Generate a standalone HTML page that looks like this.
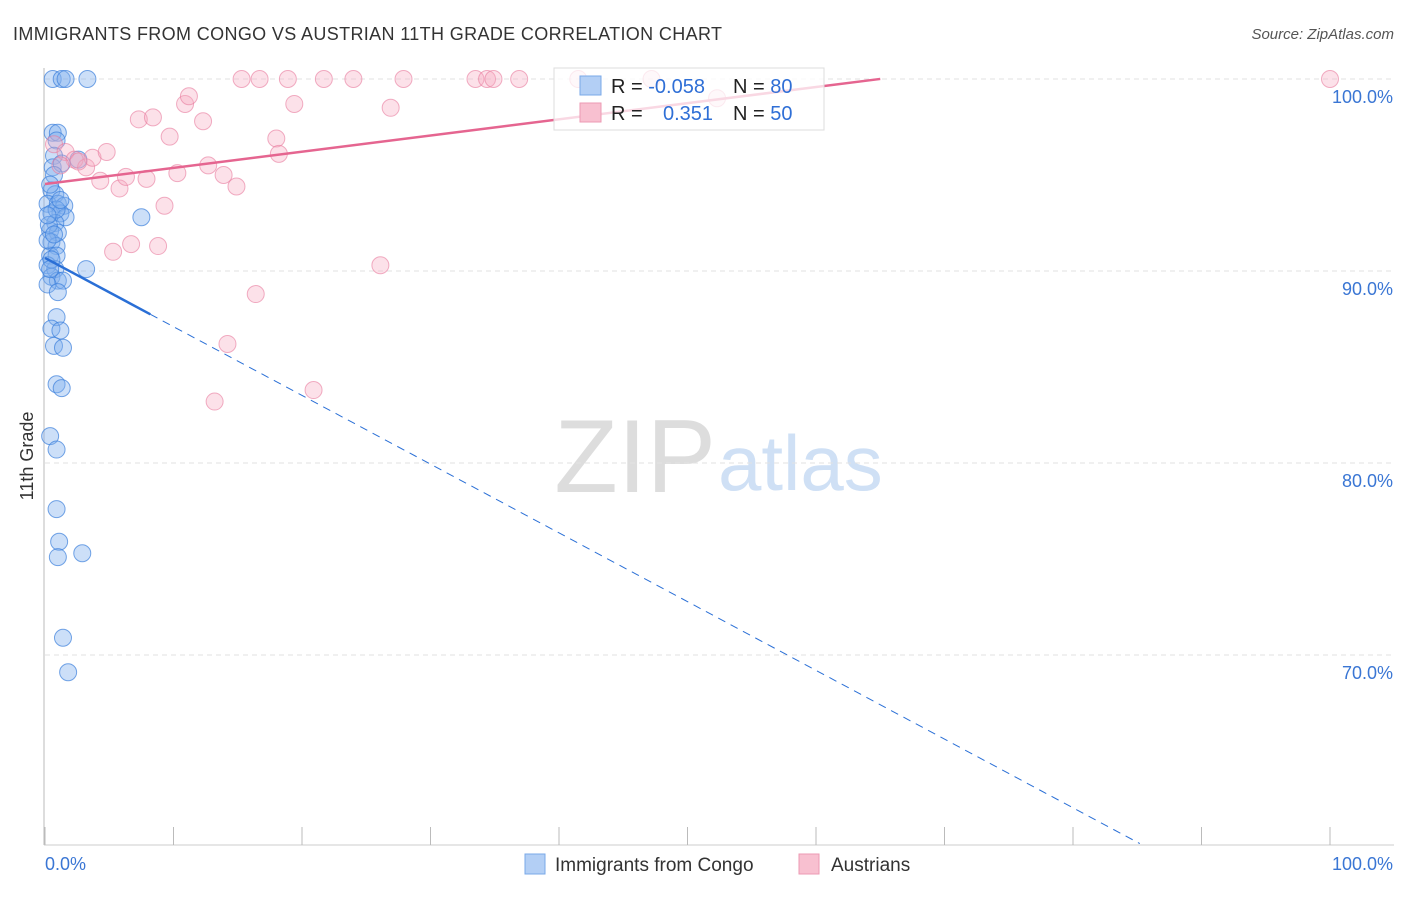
<!DOCTYPE html>
<html><head><meta charset="utf-8"><style>
body{margin:0;background:#fff;font-family:"Liberation Sans",sans-serif;}
svg text{font-family:"Liberation Sans",sans-serif;}
</style></head><body>
<svg id="chart" width="1406" height="892" xmlns="http://www.w3.org/2000/svg">
<text x="13" y="40" font-size="18" fill="#333" textLength="709">IMMIGRANTS FROM CONGO VS AUSTRIAN 11TH GRADE CORRELATION CHART</text>
<text x="1394" y="39" font-size="15" fill="#555" font-style="italic" text-anchor="end">Source: ZipAtlas.com</text>
<text x="0" y="0" transform="translate(33,456) rotate(-90)" font-size="18" fill="#333" text-anchor="middle">11th Grade</text>
<text x="716" y="492" font-size="104" fill="#ddd" text-anchor="end" font-family="Liberation Serif">ZIP</text>
<text x="718" y="490" font-size="78" fill="#cfe0f5">atlas</text>
<g id="grid"></g><g id="pts"></g><g id="trend"></g>
<g>
<rect x="554" y="68" width="270" height="62" fill="#fff" fill-opacity="0.75" stroke="#ddd"/>
<rect x="580" y="76" width="21" height="19" fill="#b3cff5" stroke="#7aa8e8"/>
<rect x="580" y="103" width="21" height="19" fill="#f8c0d0" stroke="#ec9ab3"/>
<text x="611" y="93" font-size="20" fill="#222">R = <tspan fill="#2f6fd6">-0.058</tspan></text>
<text x="733" y="93" font-size="20" fill="#222">N = <tspan fill="#2f6fd6">80</tspan></text>
<text x="611" y="120" font-size="20" fill="#222">R = </text>
<text x="663" y="120" font-size="20" fill="#2f6fd6">0.351</text>
<text x="733" y="120" font-size="20" fill="#222">N = <tspan fill="#2f6fd6">50</tspan></text>
</g>
<g>
<rect x="525" y="854" width="20" height="20" fill="#b3cff5" stroke="#7aa8e8"/>
<text x="555" y="871" font-size="19" fill="#333">Immigrants from Congo</text>
<rect x="799" y="854" width="20" height="20" fill="#f8c0d0" stroke="#ec9ab3"/>
<text x="831" y="871" font-size="19" fill="#333">Austrians</text>
</g>
<text x="45" y="870" font-size="18" fill="#3a76d4">0.0%</text>
<text x="1393" y="870" font-size="18" fill="#3a76d4" text-anchor="end">100.0%</text>
</svg>
<script>
const yTicks=[100,90,80,70];
const xTicks=[0,10,20,30,40,50,60,70,80,90,100];
const congoX=[0.6,1.3,1.6,3.3,0.6,1,0.9,0.7,0.6,1.3,0.7,0.5,0.8,0.2,1,1.5,0.5,1.2,1.6,0.8,0.4,1,0.5,0.9,0.4,0.9,0.2,0.8,3.2,0.5,1,1.4,0.2,1,0.9,0.5,1.2,0.7,1.4,0.9,1.3,0.4,0.9,0.9,1.1,1,2.9,1.4,1.8,7.5,2.6,0.2,0.5,0.4,0.3,0.9,1.2,0.4,0.2,0.7];
const congoY=[100,100,100,100,97.2,97.2,96.8,96,95.4,95.6,95,94.2,94,93.5,93.5,93.4,93,93,92.8,92.5,92.1,92,91.5,91.3,90.8,90.8,90.3,90.1,90.1,89.7,89.5,89.5,89.3,88.9,87.6,87,86.9,86.1,86,84.1,83.9,81.4,80.7,77.6,75.9,75.1,75.3,70.9,69.1,92.8,95.8,91.6,90.6,90.1,92.4,93.2,93.7,94.5,92.9,91.9];
const austX=[0.7,1.6,2.3,3.2,3.7,4.8,2.6,4.3,5.8,6.3,7.9,7.3,8.4,9.7,10.3,10.9,11.2,12.3,12.7,13.9,14.9,9.3,6.7,5.3,8.8,16.4,14.2,13.2,20.9,26.1,18,18.2,19.4,26.9,15.3,16.7,18.9,21.7,24,27.9,33.5,34.4,34.9,36.9,41.5,47.2,52.3,100,1.2];
const austY=[96.6,96.2,95.8,95.4,95.9,96.2,95.7,94.7,94.3,94.9,94.8,97.9,98,97,95.1,98.7,99.1,97.8,95.5,95,94.4,93.4,91.4,91,91.3,88.8,86.2,83.2,83.8,90.3,96.9,96.1,98.7,98.5,100,100,100,100,100,100,100,100,100,100,100,100,99,100,95.5];
const X0=45,X1=1330;
function xs(v){return X0+(X1-X0)*v/100;}
function ys(v){return 79+(100-v)*19.2;}
const NS='http://www.w3.org/2000/svg';
function mk(t,a,p){const e=document.createElementNS(NS,t);for(const k in a)e.setAttribute(k,a[k]);document.getElementById(p).appendChild(e);return e;}
yTicks.forEach(t=>{
 const l=mk('line',{x1:45,x2:1394,y1:ys(t),y2:ys(t),stroke:'#e2e2e2','stroke-dasharray':'5,4'},'grid');
 
 
 const tx=mk('text',{x:1393,y:ys(t)+24,'font-size':18,fill:'#3a76d4','text-anchor':'end'},'grid');
 tx.textContent=t.toFixed(1)+'%';
 
 
});
const ax=mk('line',{x1:44,x2:44,y1:68,y2:845,stroke:'#bbb'},'grid');


const bx=mk('line',{x1:44,x2:1394,y1:845,y2:845,stroke:'#ccc'},'grid');


xTicks.forEach(t=>{
 const l=mk('line',{x1:xs(t),x2:xs(t),y1:827,y2:845,stroke:'#bbb'},'grid');
 
 
});
congoX.forEach((v,i)=>{
 const c=mk('circle',{cx:xs(v),cy:ys(congoY[i]),r:8.5,fill:'#7fb0ee','fill-opacity':0.4,stroke:'#3b7fdb','stroke-opacity':0.7},'pts');
 
 
});
austX.forEach((v,i)=>{
 const c=mk('circle',{cx:xs(v),cy:ys(austY[i]),r:8.5,fill:'#f5a8c0','fill-opacity':0.35,stroke:'#e8799c','stroke-opacity':0.6},'pts');
 
 
});
const congoTrend=[90.68,-0.358];
const austTrend=[94.53,0.0842];
let t1=mk('line',{x1:xs(0),y1:ys(congoTrend[0]),x2:xs(8.2),y2:ys(congoTrend[0]+congoTrend[1]*8.2),stroke:'#2a6fd6','stroke-width':2.5},'trend');


let t2=mk('line',{x1:xs(8.2),y1:ys(congoTrend[0]+congoTrend[1]*8.2),x2:xs(85.2),y2:ys(congoTrend[0]+congoTrend[1]*85.2),stroke:'#2a6fd6','stroke-width':1,'stroke-dasharray':'8,6'},'trend');


let t3=mk('line',{x1:xs(0),y1:ys(austTrend[0]),x2:xs(65),y2:ys(austTrend[0]+austTrend[1]*65),stroke:'#e56590','stroke-width':2.5},'trend');


</script>
</body></html>
